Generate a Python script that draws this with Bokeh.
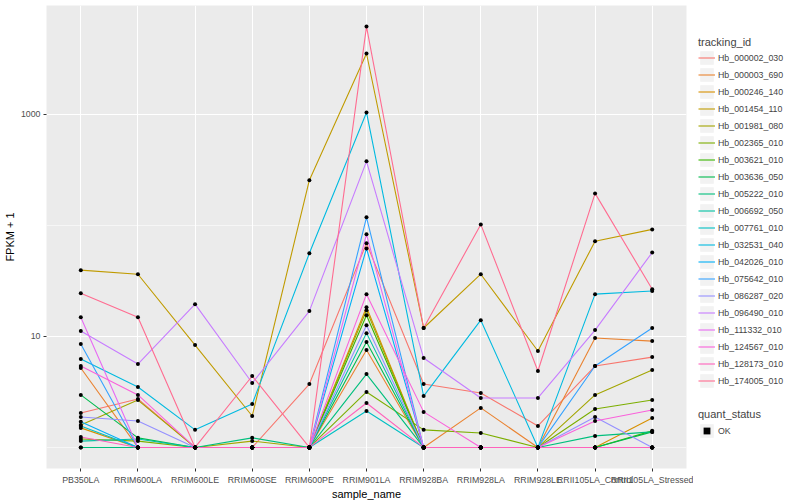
from bokeh.plotting import figure
from bokeh.models import (FactorRange, Range1d, FixedTicker, PrintfTickFormatter,
                          Legend, LegendItem, ColumnDataSource)
from bokeh.layouts import row
from bokeh.embed import file_html
from bokeh.resources import INLINE

FONT = "Liberation Sans"

samples = ["PB350LA", "RRIM600LA", "RRIM600LE", "RRIM600SE", "RRIM600PE", "RRIM901LA",
           "RRIM928BA", "RRIM928LA", "RRIM928LE", "RRII105LA_Control", "RRII105LA_Stressed"]

tracking_ids = ["Hb_000002_030", "Hb_000003_690", "Hb_000246_140", "Hb_001454_110",
                "Hb_001981_080", "Hb_002365_010", "Hb_003621_010", "Hb_003636_050",
                "Hb_005222_010", "Hb_006692_050", "Hb_007761_010", "Hb_032531_040",
                "Hb_042026_010", "Hb_075642_010", "Hb_086287_020", "Hb_096490_010",
                "Hb_111332_010", "Hb_124567_010", "Hb_128173_010", "Hb_174005_010"]

colors = ["#F8766D", "#EA8331", "#D89000", "#C09B00", "#A3A500", "#7CAE00", "#39B600",
          "#00BB4E", "#00BF7D", "#00C1A3", "#00BFC4", "#00BAE0", "#00B0F6", "#35A2FF",
          "#9590FF", "#C77CFF", "#E76BF3", "#FA62DB", "#FF62BC", "#FF6C91"]

# FPKM + 1 per sample (order of `samples`)
hb_000002_030 = [2.04, 2.73, 1, 1, 3.72, 69, 3.72, 3.09, 1.56, 5.41, 6.51]
hb_000003_690 = [5.19, 1, 1, 1, 1, 7.53, 1, 2.27, 1, 9.66, 9.07]
hb_000246_140 = [1.50, 1, 1, 1, 1, 18.3, 1, 1, 1, 1, 1.84]
hb_001454_110 = [39.5, 36.3, 8.35, 1.92, 255, 3530, 11.9, 36.3, 7.38, 72, 92]
hb_001981_080 = [1.59, 2.67, 1, 1.14, 1, 17.2, 1, 1, 1, 2.97, 4.98]
hb_002365_010 = [1.19, 1.14, 1, 1, 1, 3.16, 1.44, 1.35, 1, 2.22, 2.67]
hb_003621_010 = [1, 1, 1, 1, 1, 15.5, 1, 1, 1, 1, 1.41]
hb_003636_050 = [2.97, 1.22, 1, 1, 1, 8.89, 1, 1, 1, 1, 1.38]
hb_005222_010 = [1, 1, 1, 1.22, 1, 4.58, 1, 1, 1, 1.27, 1.38]
hb_006692_050 = [1.14, 1.19, 1, 1, 1, 10.7, 1, 1, 1, 1, 1]
hb_007761_010 = [1.56, 1, 1, 1, 1, 2.13, 1, 1, 1, 1, 1]
hb_032531_040 = [6.25, 3.50, 1.44, 2.46, 56, 1040, 2.90, 14.0, 1, 24.0, 25.6]
hb_042026_010 = [1.70, 1, 1, 1, 1, 62, 1, 1, 1, 1, 1]
hb_075642_010 = [8.53, 1, 1, 1, 1, 118, 1, 1, 1, 5.41, 11.9]
hb_086287_020 = [1.88, 1.73, 1, 1, 1, 12.6, 1, 1, 1, 1.88, 1]
hb_096490_010 = [11.2, 5.63, 19.5, 3.80, 16.9, 377, 6.38, 2.79, 2.79, 11.4, 57]
hb_111332_010 = [14.9, 1, 1, 1, 1, 83, 1, 1, 1, 1, 1]
hb_124567_010 = [5.41, 2.97, 1, 1, 1, 24.0, 2.09, 1, 1, 1.73, 2.17]
hb_128173_010 = [1.24, 1, 1, 1, 1, 2.51, 1, 1, 1, 1, 1]
hb_174005_010 = [24.5, 14.9, 1, 4.40, 1, 6170, 11.9, 102, 4.88, 194, 26.6]

series_values = [hb_000002_030, hb_000003_690, hb_000246_140, hb_001454_110, hb_001981_080,
                 hb_002365_010, hb_003621_010, hb_003636_050, hb_005222_010, hb_006692_050,
                 hb_007761_010, hb_032531_040, hb_042026_010, hb_075642_010, hb_086287_020,
                 hb_096490_010, hb_111332_010, hb_124567_010, hb_128173_010, hb_174005_010]

y_ticks = [10, 1000]
y_minor = [1, 100]

p = figure(title=None, frame_width=640, frame_height=463,
           x_range=FactorRange(factors=samples, range_padding=0.1, range_padding_units="absolute"),
           y_range=Range1d(0.646, 9550), y_axis_type="log",
           toolbar_location=None, output_backend="svg",
           min_border_left=45, min_border_right=7, min_border_top=5, min_border_bottom=30,
           background_fill_color="#EBEBEB", border_fill_color="white", outline_line_color=None)

for vals, c in zip(series_values, colors):
    p.line(x=samples, y=vals, line_color=c, line_width=1.1)

pts_x, pts_y = [], []
for vals in series_values:
    pts_x.extend(samples)
    pts_y.extend(vals)
p.scatter(x=pts_x, y=pts_y, marker="circle", size=4, fill_color="black", line_color=None)

p.yaxis.ticker = FixedTicker(ticks=y_ticks, minor_ticks=y_minor)
p.yaxis.formatter = PrintfTickFormatter(format="%d")
p.xgrid.grid_line_color = "white"
p.xgrid.grid_line_width = 1.1
p.ygrid.grid_line_color = "white"
p.ygrid.grid_line_width = 1.1
p.ygrid.minor_grid_line_color = "white"
p.ygrid.minor_grid_line_width = 0.55

for ax in (p.xaxis[0], p.yaxis[0]):
    ax.axis_line_color = None
    ax.major_tick_line_color = "#333333"
    ax.major_tick_out = 3
    ax.major_tick_in = 0
    ax.minor_tick_line_color = None
    ax.major_label_text_font = FONT
    ax.major_label_text_font_size = "8.8px"
    ax.major_label_text_color = "#4D4D4D"
    ax.axis_label_text_font = FONT
    ax.axis_label_text_font_size = "11px"
    ax.axis_label_text_font_style = "normal"
    ax.axis_label_text_color = "black"

p.xaxis.axis_label = "sample_name"
p.yaxis.axis_label = "FPKM + 1"
p.xaxis.major_label_standoff = 3
p.xaxis.axis_label_standoff = 0
p.yaxis.major_label_standoff = 2
p.yaxis.axis_label_standoff = 2

# Legend panel (dummy renderers sit outside the visible range; only their legend swatches show)
lg = figure(title=None, width=108, height=498, toolbar_location=None, output_backend="svg",
            x_range=Range1d(0, 1), y_range=Range1d(0, 1),
            x_axis_location=None, y_axis_location=None,
            min_border_left=0, min_border_right=0, min_border_top=0, min_border_bottom=0,
            outline_line_color=None, background_fill_color="white", border_fill_color="white")
lg.grid.visible = False

key_bg = lg.quad(source=ColumnDataSource(dict(l=[-10], r=[-9], t=[-9], b=[-10])),
                 left="l", right="r", top="t", bottom="b",
                 fill_color="#F2F2F2", line_color=None)
items = []
for tid, c in zip(tracking_ids, colors):
    r = lg.line(source=ColumnDataSource(dict(x=[-10, -9], y=[-10, -9])), x="x", y="y",
                line_color=c, line_width=1.1)
    items.append(LegendItem(label=tid, renderers=[key_bg, r]))

ok_r = lg.scatter(source=ColumnDataSource(dict(x=[-10], y=[-10])), x="x", y="y",
                  marker="square", size=3, fill_color="black", line_color=None)

common = dict(margin=0, padding=5, spacing=0, glyph_width=17, glyph_height=17,
              label_height=17, label_standoff=3, label_text_font=FONT,
              label_text_font_size="8.8px", title_text_font=FONT,
              title_text_font_size="11px", title_text_font_style="normal",
              border_line_color=None, background_fill_alpha=0)

leg1 = Legend(items=items, location=(5, 75), title="tracking_id", title_standoff=1, **common)
leg2 = Legend(items=[LegendItem(label="OK", renderers=[key_bg, ok_r])],
              location=(5, 25), title="quant_status", title_standoff=2, **common)
lg.add_layout(leg1)
lg.add_layout(leg2)

layout = row(p, lg)
open("out.html", "w").write(file_html(layout, INLINE))
